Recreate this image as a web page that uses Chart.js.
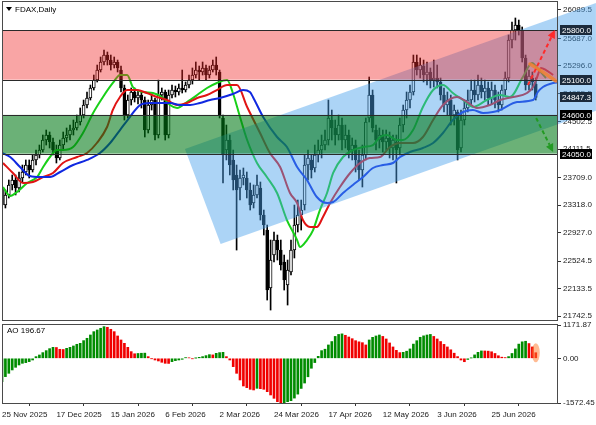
<!DOCTYPE html>
<html>
<head>
<meta charset="utf-8">
<script src="https://cdn.jsdelivr.net/npm/chart.js@4.4.0/dist/chart.umd.min.js"></script>
<style>
html, body { margin: 0; padding: 0; background: #fff; }
#wrap { position: relative; width: 596px; height: 425px; overflow: hidden; }
#main { position: absolute; left: 0; top: 0; }
#ao { position: absolute; left: 0; top: 322px; }
</style>
</head>
<body>
<div id="wrap">
  <canvas id="main" width="596" height="322"></canvas>
  <canvas id="ao" width="596" height="103"></canvas>
</div>
<script>
// eje de fechas: una etiqueta cada 16 velas
const dateLabels = ['25 Nov 2025', '17 Dec 2025', '15 Jan 2026', '6 Feb 2026', '2 Mar 2026',
    '24 Mar 2026', '17 Apr 2026', '12 May 2026', '3 Jun 2026', '25 Jun 2026'];
const dateBars = [0, 16, 32, 48, 64, 80, 96, 112, 128, 144];

const priceTicks = [26089.5, 25687.0, 25296.0, 24905.5, 24502.5, 24111.5, 23709.0,
    23318.0, 22927.0, 22524.5, 22133.5, 21742.5];
const aoTicks = [1171.87, 0, -1572.45];

// velas diarias FDAX
const opens = [23562, 23320, 23463, 23605, 23676, 23562, 23704, 23789, 23888, 23818,
    23960, 24030, 24101, 24243, 24314, 24215, 24101, 23988, 24172, 24272,
    24314, 24385, 24414, 24499, 24598, 24740, 24840, 24982, 25095, 25237,
    25351, 25450, 25379, 25308, 25351, 25237, 24982, 24598, 24811, 24925,
    24840, 24882, 24811, 24385, 24740, 24811, 24314, 24882, 24925, 24314,
    24882, 24953, 24925, 24982, 24953, 25024, 25095, 25166, 25237, 25209,
    25266, 25166, 25237, 25308, 25209, 24556, 24101, 24243, 23960, 23747,
    23562, 23704, 23704, 23534, 23349, 23463, 23562, 23178, 22965, 22142,
    22610, 22823, 22681, 22511, 22184, 22369, 22681, 23036, 23178, 23320,
    23888, 23960, 23846, 24030, 24101, 24172, 24243, 24527, 24414, 24314,
    24456, 24243, 24314, 24101, 24172, 23960, 23818, 24030, 24556, 24882,
    24385, 24243, 24314, 24215, 24272, 24130, 24215, 24130, 24456, 24669,
    24811, 24925, 25351, 25237, 25294, 25166, 25209, 25095, 25124, 25067,
    24882, 24740, 24811, 24598, 24641, 24130, 24527, 24698, 24811, 24953,
    24882, 25024, 24925, 24982, 24840, 24953, 24811, 24740, 24953, 25124,
    25663, 25805, 25876, 25805, 25408, 25024, 25124, 25038];
const highs = [23605, 23534, 23676, 23746, 23747, 23789, 23888, 23960, 23960, 24030,
    24101, 24172, 24314, 24385, 24357, 24272, 24172, 24243, 24357, 24414,
    24456, 24527, 24598, 24698, 24811, 24925, 25024, 25166, 25308, 25422,
    25521, 25493, 25450, 25422, 25379, 25294, 25024, 24882, 24982, 24982,
    24953, 24925, 24854, 24811, 24882, 24840, 25095, 24982, 24953, 24953,
    25024, 25010, 25038, 25237, 25067, 25166, 25266, 25351, 25294, 25351,
    25308, 25294, 25379, 25422, 25237, 24598, 24456, 24314, 24101, 23888,
    23818, 23846, 23789, 23633, 23605, 23747, 23647, 23249, 23036, 22823,
    22937, 22894, 22823, 22610, 22539, 22823, 23320, 23391, 23391, 24030,
    24101, 24030, 24172, 24243, 24314, 24385, 24811, 24669, 24527, 24598,
    24556, 24456, 24385, 24272, 24243, 24101, 24172, 24556, 25138, 24953,
    24456, 24414, 24385, 24385, 24357, 24314, 24314, 24556, 24740, 24925,
    25024, 25450, 25450, 25408, 25379, 25351, 25266, 25379, 25308, 25124,
    24982, 24925, 24882, 24740, 24669, 24669, 24811, 24953, 25095, 25095,
    25166, 25124, 25095, 25067, 25067, 25024, 24925, 25024, 25209, 25734,
    25919, 25976, 25947, 25848, 25450, 25237, 25209, 25124];
const lows = [23150, 23278, 23420, 23534, 23463, 23505, 23647, 23747, 23704, 23789,
    23888, 23988, 24073, 24172, 24130, 24030, 23917, 23960, 24101, 24215,
    24243, 24314, 24385, 24456, 24556, 24698, 24811, 24953, 25067, 25209,
    25308, 25308, 25237, 25266, 25209, 24925, 24527, 24556, 24740, 24783,
    24755, 24698, 24286, 24343, 24669, 24243, 24272, 24811, 24243, 24272,
    24840, 24854, 24882, 24911, 24925, 24982, 25038, 25124, 25095, 25166,
    25095, 25124, 25209, 25166, 24556, 23633, 23960, 23747, 23534, 22681,
    23391, 23605, 23420, 23249, 23278, 23420, 23107, 22894, 21971, 21829,
    22511, 22539, 22397, 22113, 21900, 22326, 22568, 22937, 22965, 23249,
    23676, 23704, 23789, 23931, 23988, 24101, 24172, 24243, 24172, 24243,
    24101, 24130, 23988, 23960, 23789, 23676, 23576, 23960, 24499, 24357,
    24101, 24130, 24073, 24101, 23988, 23960, 23633, 24030, 24357, 24556,
    24698, 24882, 25166, 25124, 25067, 25024, 24982, 24996, 24982, 24811,
    24641, 24598, 24456, 24456, 23960, 24073, 24456, 24641, 24740, 24783,
    24811, 24840, 24811, 24740, 24755, 24698, 24641, 24669, 24882, 25067,
    25550, 25663, 25734, 25351, 24953, 24953, 24953, 24811];
const closes = [23320, 23463, 23605, 23676, 23562, 23704, 23789, 23888, 23818, 23960,
    24030, 24101, 24243, 24314, 24215, 24101, 23988, 24172, 24272, 24314,
    24385, 24414, 24499, 24598, 24740, 24840, 24982, 25095, 25237, 25351,
    25450, 25379, 25308, 25351, 25266, 24982, 24598, 24811, 24925, 24840,
    24882, 24811, 24385, 24740, 24811, 24314, 24882, 24925, 24314, 24882,
    24953, 24925, 24982, 24953, 25024, 25095, 25166, 25237, 25209, 25266,
    25166, 25237, 25308, 25237, 24598, 24030, 24243, 23888, 23676, 23534,
    23704, 23747, 23534, 23320, 23463, 23605, 23178, 23036, 22113, 22539,
    22823, 22681, 22468, 22255, 22397, 22681, 23036, 23178, 23249, 23888,
    23988, 23818, 24030, 24101, 24172, 24243, 24556, 24414, 24314, 24456,
    24243, 24314, 24101, 24172, 23960, 23818, 24030, 24499, 24882, 24414,
    24243, 24314, 24215, 24272, 24130, 24243, 24101, 24456, 24669, 24811,
    24925, 25351, 25237, 25308, 25166, 25209, 25095, 25124, 25067, 24882,
    24740, 24811, 24598, 24669, 24101, 24527, 24698, 24811, 24953, 24882,
    25024, 24925, 24982, 24840, 24953, 24811, 24740, 24953, 25124, 25663,
    25805, 25876, 25805, 25408, 25024, 25152, 25067, 24847.3];

// Alligator: [vela, precio]
const jawLine = [[0, 24059], [2.4, 24002], [5.3, 23860], [8.2, 23732], [11.2, 23718], [14.1, 23718],
    [17.1, 23789], [20.9, 23888], [25.0, 23960], [28.8, 24059], [31.8, 24201], [34.7, 24385],
    [37.6, 24570], [40.6, 24740], [43.5, 24769], [46.5, 24769], [49.4, 24769], [52.4, 24740],
    [55.3, 24740], [58.2, 24769], [61.2, 24811], [64.1, 24840], [67.9, 24897], [70.9, 24953],
    [72.9, 24925], [73.8, 24854], [76.8, 24570], [80.9, 24286], [83.8, 24144], [86.8, 23860],
    [89.7, 23676], [92.6, 23434], [95.6, 23349], [97.4, 23363], [100.3, 23491], [103.2, 23605],
    [106.2, 23718], [109.1, 23846], [112.1, 23888], [115.0, 23917], [117.1, 24002], [120.0, 24073],
    [123.8, 24130], [126.8, 24201], [129.7, 24343], [132.6, 24527], [135.6, 24641], [138.5, 24670],
    [141.5, 24627], [144.4, 24641], [146.5, 24670], [151.5, 24783], [156.2, 24811], [157.6, 24925],
    [159.1, 24996], [162.1, 25053], [165.0, 25067]];
const teethLine = [[0.3, 23917], [3.2, 23775], [6.2, 23633], [9.1, 23647], [12.1, 23718], [15.0, 23775],
    [17.9, 23917], [22.1, 24002], [25.0, 24059], [27.9, 24201], [30.9, 24428], [32.6, 24670],
    [34.7, 24854], [36.8, 24953], [39.7, 24953], [42.6, 24911], [45.6, 24854], [48.5, 24811],
    [51.5, 24740], [54.4, 24769], [57.4, 24840], [60.3, 24882], [63.2, 24953], [66.2, 25024],
    [69.1, 25024], [72.1, 24712], [75.9, 24343], [78.8, 24059], [81.8, 23860], [84.7, 23491],
    [86.8, 23349], [88.5, 23107], [90.6, 23008], [92.6, 23008], [94.4, 23150], [96.5, 23349],
    [99.4, 23576], [102.4, 23775], [105.3, 23917], [108.2, 23988], [111.2, 24002], [114.1, 24144],
    [117.1, 24201], [120.9, 24201], [123.8, 24286], [126.8, 24527], [129.7, 24740], [133.8, 24854],
    [136.8, 24783], [139.7, 24698], [143.5, 24740], [146.5, 24811], [150.3, 24854], [154.4, 24911],
    [156.2, 24996], [157.4, 25138], [158.5, 25266], [160.0, 25237], [162.1, 25166]];
const lipsLine = [[0.3, 23576], [2.4, 23449], [4.4, 23505], [7.4, 23633], [10.3, 23718], [12.1, 23860],
    [14.1, 24002], [16.2, 24101], [17.9, 24101], [20.9, 24144], [23.8, 24343], [26.8, 24627],
    [29.7, 24854], [32.6, 25053], [34.7, 25166], [36.8, 25166], [38.5, 24996], [41.5, 24925],
    [44.4, 24911], [47.4, 24840], [49.4, 24740], [51.5, 24698], [54.4, 24783], [57.4, 24882],
    [60.3, 24982], [63.2, 25053], [66.2, 25095], [67.9, 24911], [70.0, 24570], [72.1, 24243],
    [75.0, 23917], [77.9, 23718], [80.9, 23491], [83.8, 23107], [86.8, 22823], [87.6, 22724],
    [89.7, 22823], [91.5, 22965], [93.5, 23249], [95.6, 23491], [97.4, 23775], [100.3, 24002],
    [103.2, 24101], [106.2, 24144], [109.1, 24172], [111.2, 24286], [113.2, 24314], [116.2, 24243],
    [117.9, 24243], [120.9, 24385], [123.8, 24712], [126.8, 24953], [129.7, 25024], [132.6, 24911],
    [135.6, 24811], [138.5, 24712], [142.6, 24811], [146.5, 24882], [149.4, 24854], [153.2, 25138],
    [155.9, 25337], [157.4, 25266], [160.0, 25124]];

// Awesome Oscillator por vela
const aoValues = [-820, -645, -528, -410, -317, -235, -176, -152, -117, -59,
    59, 117, 200, 270, 340, 387, 380, 317, 310, 352,
    387, 434, 493, 528, 622, 704, 821, 938, 997, 1056,
    1114, 1092, 1021, 938, 786, 645, 528, 387, 235, 160,
    170, 178, 182, 59, -10, -59, -94, -140, -176, -180,
    -117, -82, -59, -35, 25, 15, -12, 5, 35, 59,
    94, 129, 120, 176, 200, 210, 59, -59, -293, -528,
    -762, -974, -1032, -1091, -1114, -1056, -1068, -1091, -1173, -1290,
    -1408, -1525, -1584, -1560, -1525, -1490, -1400, -1260, -1060, -870,
    -650, -350, -150, 70, 270, 320, 470, 590, 770, 840,
    860, 810, 750, 690, 620, 580, 550, 470, 645, 739,
    786, 820, 770, 680, 540, 400, 280, 200, 210, 250,
    330, 500, 620, 740, 790, 820, 840, 770, 680, 590,
    490, 400, 300, 180, 60, -60, -120, -40, 10, 120,
    210, 260, 258, 252, 230, 170, 90, 40, 25, 60,
    170, 330, 500, 580, 600, 520, 400, 196.67];

// objetos dibujados
const levels = [25800, 25100, 24600, 24050];
const redZone = [25100, 25800];
const greenZone = [24050, 24600];
const channel = [[53.8, 24116], [64.3, 22767], [174.7, 24658], [174.7, 26189]];
const upArrow = [[154.7, 25024], [162.6, 25805]];
const downArrow = [[157.1, 24556], [162.1, 24073]];
const orangeLine = [[155.3, 25323], [159.1, 25209], [162.9, 25081]];
const priceTags = [25800, 25100, 24847.3, 24600, 24050];

const X_MIN = 0.29, X_MAX = 163.24;
const FONT = '"Liberation Sans", Arial, sans-serif';

document.addEventListener('DOMContentLoaded', () => {
    Chart.defaults.font.family = FONT;
    Chart.defaults.font.size = 8;
    Chart.defaults.color = '#111';
    inicializarPrecio();
    inicializarAO();
});

// sin margen extra por las etiquetas de los extremos
function sinPadding(s) {
    s.paddingTop = 0;
    s.paddingBottom = 0;
    s.paddingLeft = 0;
    s.paddingRight = 0;
}

function drawArrow(ctx, x1, y1, x2, y2, color) {
    const ang = Math.atan2(y2 - y1, x2 - x1), head = 8;
    const bx = x2 - head * Math.cos(ang), by = y2 - head * Math.sin(ang);
    ctx.strokeStyle = color;
    ctx.lineWidth = 2;
    ctx.setLineDash([4, 3]);
    ctx.beginPath();
    ctx.moveTo(x1, y1);
    ctx.lineTo(bx, by);
    ctx.stroke();
    ctx.setLineDash([]);
    ctx.fillStyle = color;
    ctx.beginPath();
    ctx.moveTo(x2, y2);
    ctx.lineTo(bx + 4 * Math.sin(ang), by - 4 * Math.cos(ang));
    ctx.lineTo(bx - 4 * Math.sin(ang), by + 4 * Math.cos(ang));
    ctx.closePath();
    ctx.fill();
}

function drawFrame(ctx, a) {
    ctx.strokeStyle = '#4a4a4a';
    ctx.lineWidth = 1;
    ctx.strokeRect(a.left - 0.5, a.top - 0.5, a.right - a.left + 1, a.bottom - a.top + 1);
}

// objetos sobre las velas: canal, zonas, niveles, flechas
const objetosPlugin = {
    id: 'objetos',
    afterDatasetsDraw(chart) {
        const { ctx, chartArea: a, scales } = chart;
        const px = v => scales.x.getPixelForValue(v);
        const py = v => scales.y.getPixelForValue(v);

        ctx.save();
        // canal azul, sale hasta el borde derecho
        ctx.save();
        ctx.beginPath();
        ctx.rect(a.left, 0, chart.width - a.left, a.bottom);
        ctx.clip();
        ctx.beginPath();
        channel.forEach(([i, p], k) => k ? ctx.lineTo(px(i), py(p)) : ctx.moveTo(px(i), py(p)));
        ctx.closePath();
        ctx.fillStyle = 'rgba(70,160,235,0.45)';
        ctx.fill();
        ctx.restore();

        ctx.beginPath();
        ctx.rect(a.left, a.top, a.right - a.left, a.bottom - a.top);
        ctx.clip();

        const band = (zone, color) => {
            ctx.fillStyle = color;
            ctx.fillRect(a.left, py(zone[1]), a.right - a.left, py(zone[0]) - py(zone[1]));
        };
        band(redZone, 'rgba(240,40,40,0.42)');
        band(greenZone, 'rgba(0,120,20,0.58)');

        ctx.strokeStyle = '#2a2a2a';
        ctx.lineWidth = 1;
        levels.forEach(v => {
            const yy = Math.round(py(v)) + 0.5;
            ctx.beginPath();
            ctx.moveTo(a.left, yy);
            ctx.lineTo(a.right, yy);
            ctx.stroke();
        });

        // tramo naranja
        ctx.strokeStyle = 'rgba(240,130,50,0.85)';
        ctx.lineWidth = 3.5;
        ctx.lineCap = 'round';
        ctx.beginPath();
        orangeLine.forEach(([i, p], k) => k ? ctx.lineTo(px(i), py(p)) : ctx.moveTo(px(i), py(p)));
        ctx.stroke();
        ctx.lineCap = 'butt';

        drawArrow(ctx, px(upArrow[0][0]), py(upArrow[0][1]), px(upArrow[1][0]), py(upArrow[1][1]), '#ff2a2a');
        drawArrow(ctx, px(downArrow[0][0]), py(downArrow[0][1]), px(downArrow[1][0]), py(downArrow[1][1]), '#239a23');
        ctx.restore();
    },
    afterDraw(chart) {
        const { ctx, chartArea: a, scales } = chart;
        const py = v => scales.y.getPixelForValue(v);
        ctx.save();
        drawFrame(ctx, a);

        // etiquetas de precio en el eje
        ctx.font = '8px ' + FONT;
        ctx.textBaseline = 'middle';
        ctx.textAlign = 'left';
        priceTags.forEach((v, k) => {
            const yy = Math.round(py(v));
            ctx.fillStyle = k < 3 ? '#1b2a3b' : '#000';
            ctx.fillRect(a.right + 3, yy - 5, 32, 10);
            ctx.fillStyle = '#fff';
            ctx.fillText(v.toFixed(1), a.right + 5, yy + 0.5);
        });

        // titulo
        ctx.fillStyle = '#000';
        ctx.beginPath();
        ctx.moveTo(a.left + 3, 7);
        ctx.lineTo(a.left + 9, 7);
        ctx.lineTo(a.left + 6, 11);
        ctx.closePath();
        ctx.fill();
        ctx.fillText('FDAX,Daily', a.left + 12, 9.5);
        ctx.restore();
    }
};

function inicializarPrecio() {
    const canvas = document.getElementById('main');
    if (!canvas) return;

    const bodies = closes.map((c, i) => ({ x: i, y: [opens[i], c] }));
    const wicks = closes.map((c, i) => ({ x: i, y: [lows[i], highs[i]] }));
    const line = (pts, color) => ({
        type: 'line',
        data: pts.map(([i, p]) => ({ x: i, y: p })),
        borderColor: color,
        borderWidth: 2,
        pointRadius: 0,
        cubicInterpolationMode: 'monotone',
        order: 0
    });

    new Chart(canvas, {
        type: 'bar',
        data: {
            datasets: [
                line(jawLine, '#1028e0'),
                line(teethLine, '#e01414'),
                line(lipsLine, '#18d018'),
                {
                    data: bodies,
                    grouped: false,
                    barThickness: 3,
                    backgroundColor: closes.map((c, i) => c >= opens[i] ? '#fff' : '#000'),
                    borderColor: '#000',
                    borderWidth: 1,
                    borderSkipped: false,
                    order: 1
                },
                {
                    data: wicks,
                    grouped: false,
                    barThickness: 1,
                    backgroundColor: '#000',
                    order: 2
                }
            ]
        },
        options: {
            responsive: false,
            animation: false,
            devicePixelRatio: 1,
            layout: { padding: { left: 3, top: 2, right: 0, bottom: 2 } },
            plugins: { legend: { display: false }, tooltip: { enabled: false } },
            scales: {
                x: { type: 'linear', display: false, min: X_MIN, max: X_MAX, offset: false },
                y: {
                    position: 'right',
                    min: 21687.5,
                    max: 26203,
                    afterFit: s => { s.width = 39; sinPadding(s); },
                    afterBuildTicks: s => { s.ticks = priceTicks.map(v => ({ value: v })); },
                    ticks: { padding: 2, font: { size: 8 }, color: '#1a1a1a', callback: v => v.toFixed(1) },
                    grid: { drawOnChartArea: false, tickLength: 4, color: '#333' },
                    border: { color: '#333' }
                }
            }
        },
        plugins: [objetosPlugin]
    });
}

// panel AO
const aoPlugin = {
    id: 'aoPanel',
    afterDatasetsDraw(chart) {
        const { ctx, scales } = chart;
        const last = aoValues.length - 1;
        const cx = scales.x.getPixelForValue(last);
        const cy = scales.y.getPixelForValue(aoValues[last]);
        ctx.save();
        ctx.fillStyle = 'rgba(255,120,40,0.5)';
        ctx.beginPath();
        ctx.ellipse(cx, cy, 4, 9.5, 0, 0, Math.PI * 2);
        ctx.fill();
        ctx.restore();
    },
    afterDraw(chart) {
        const { ctx, chartArea: a } = chart;
        ctx.save();
        drawFrame(ctx, a);
        ctx.fillStyle = '#000';
        ctx.font = '8px ' + FONT;
        ctx.textBaseline = 'middle';
        ctx.fillText('AO ' + aoValues[aoValues.length - 1].toFixed(2), a.left + 4, a.top + 6);
        ctx.restore();
    }
};

function inicializarAO() {
    const canvas = document.getElementById('ao');
    if (!canvas) return;

    new Chart(canvas, {
        type: 'bar',
        data: {
            datasets: [{
                data: aoValues.map((v, i) => ({ x: i, y: v })),
                barThickness: 2,
                grouped: false,
                backgroundColor: aoValues.map((v, i) => i > 0 && v < aoValues[i - 1] ? '#f00000' : '#008c00')
            }]
        },
        options: {
            responsive: false,
            animation: false,
            devicePixelRatio: 1,
            layout: { padding: { left: 3, top: 3, right: 0, bottom: 0 } },
            plugins: { legend: { display: false }, tooltip: { enabled: false } },
            scales: {
                x: {
                    type: 'linear',
                    min: X_MIN,
                    max: X_MAX,
                    offset: false,
                    afterFit: s => { s.height = 22; sinPadding(s); },
                    afterBuildTicks: s => { s.ticks = dateBars.map(v => ({ value: v })); },
                    ticks: {
                        autoSkip: false,
                        maxRotation: 0,
                        align: 'start',
                        padding: 4,
                        font: { size: 8 },
                        color: '#1a1a1a',
                        callback: (v, i) => dateLabels[i]
                    },
                    grid: { drawOnChartArea: false, tickLength: 3, color: '#333' },
                    border: { color: '#333' }
                },
                y: {
                    position: 'right',
                    min: -1572.45,
                    max: 1171.87,
                    afterFit: s => { s.width = 39; sinPadding(s); },
                    afterBuildTicks: s => { s.ticks = aoTicks.map(v => ({ value: v })); },
                    ticks: { padding: 2, font: { size: 8 }, color: '#1a1a1a', callback: v => v.toFixed(2) },
                    grid: { drawOnChartArea: false, tickLength: 4, color: '#333' },
                    border: { color: '#333' }
                }
            }
        },
        plugins: [aoPlugin]
    });
}
</script>
</body>
</html>
